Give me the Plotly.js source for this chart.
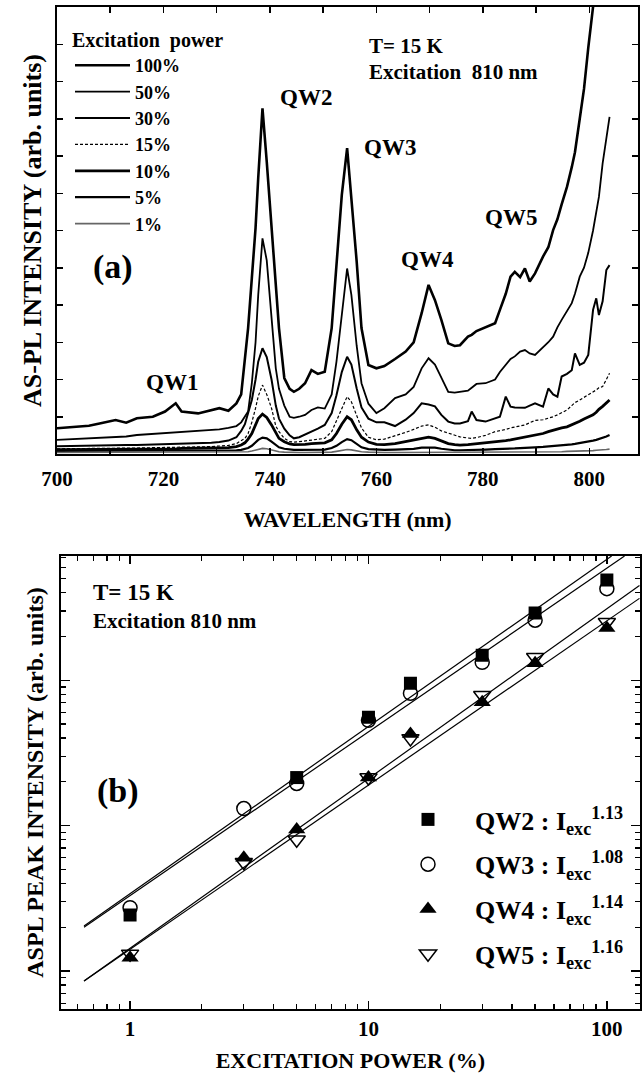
<!DOCTYPE html>
<html><head><meta charset="utf-8">
<script src="https://cdn.plot.ly/plotly-3.0.1.min.js"></script>
<style>html,body{margin:0;padding:0;background:#fff;} #chart{width:642px;height:1073px;}</style>
</head><body><div id="chart"></div>
<script>
// ---------- Panel (a): AS-PL spectra ----------
const wavelength = [700,703,706,708,711,713,715,718,720.3,722.3,723.4,726.5,729,730.5,732.2,733.7,734.6,735.3,735.9,736.6,737.3,737.8,738.6,739.4,740.3,741.1,741.7,742.7,743.7,744.5,745.5,746.6,747.8,749,750.3,751.6,752.5,753.5,754.5,755.3,756.3,757.2,758.5,760,761.5,763.5,765.5,767,768.5,769.8,771,772.2,773.5,774.7,775.7,777.2,777.9,778.8,780.5,782.3,783.2,784.3,785.2,786,787,787.9,788.8,789.8,791.3,792.3,793.2,794,794.8,795.8,796.7,797.3,798.2,799,799.8,800.7,801.3,801.8,802.5,803.2,803.8];
const pl100 = [0.69,0.73,0.76,0.82,0.91,0.84,0.96,1.0,1.14,1.36,1.14,1.09,1.18,1.23,1.16,1.36,1.6,2.48,3.38,4.72,6.07,7.41,9.28,7.85,6.07,4.72,3.38,2.04,1.75,1.67,1.75,1.9,2.25,2.15,2.21,3.38,5.16,6.95,8.21,6.95,5.16,3.38,2.39,2.3,2.36,2.55,2.75,3.0,3.78,4.54,4.13,3.6,2.97,2.9,2.92,3.15,3.2,3.3,3.4,3.51,3.87,4.3,4.76,4.89,4.75,4.98,4.63,4.85,5.3,5.55,6.01,6.3,6.7,7.17,7.7,8.1,9.0,9.8,10.9,12.0,13.2,null,null,null,null];
const pl50 = [0.38,0.4,0.42,0.43,0.45,0.47,0.51,0.54,0.55,0.58,0.6,0.62,0.64,0.66,0.7,0.75,0.85,1.0,1.14,1.9,3.0,4.27,5.79,5.2,3.6,2.3,1.75,1.3,1.0,0.97,1.0,1.05,1.18,1.25,1.22,1.6,2.48,3.82,4.98,4.27,2.9,1.9,1.35,1.1,1.23,1.5,1.6,1.8,2.3,2.57,2.4,2.05,1.67,1.65,1.67,1.7,1.78,1.88,1.9,2.0,2.2,2.4,2.55,2.62,2.75,2.79,2.7,2.66,2.85,3.0,3.15,3.4,3.6,3.85,4.05,4.3,4.76,5.0,5.4,6.0,6.46,6.9,7.8,8.5,9.05];
const pl30 = [0.21,0.22,0.22,0.23,0.23,0.24,0.24,0.25,0.26,0.27,0.27,0.28,0.3,0.32,0.36,0.45,0.62,0.8,1.1,1.45,2.0,2.48,2.84,2.6,2.0,1.3,0.95,0.68,0.5,0.42,0.45,0.52,0.6,0.68,0.78,1.1,1.58,2.2,2.61,2.4,1.76,1.25,0.95,0.85,0.85,0.75,0.92,1.1,1.36,1.33,1.28,1.05,0.87,0.82,0.82,0.88,1.14,0.91,0.87,0.95,1.0,1.54,1.27,1.25,1.25,1.24,1.3,1.36,1.27,1.76,1.6,1.54,2.08,2.15,2.25,2.7,2.39,2.45,2.66,3.87,4.18,3.73,4.1,4.94,5.07];
const pl15 = [0.14,0.14,0.15,0.15,0.15,0.16,0.16,0.17,0.17,0.18,0.18,0.19,0.2,0.21,0.23,0.28,0.35,0.42,0.55,0.85,1.23,1.55,1.85,1.6,1.23,0.75,0.6,0.42,0.33,0.32,0.33,0.35,0.38,0.4,0.42,0.6,0.9,1.25,1.54,1.4,1.05,0.7,0.45,0.38,0.4,0.48,0.58,0.66,0.75,0.78,0.72,0.62,0.56,0.5,0.46,0.43,0.42,0.44,0.5,0.6,0.62,0.66,0.7,0.72,0.76,0.78,0.84,0.9,0.92,0.96,1.0,1.05,1.1,1.18,1.3,1.38,1.45,1.52,1.58,1.65,1.72,1.78,1.81,2.0,2.17];
const pl10 = [0.12,0.12,0.12,0.13,0.13,0.13,0.13,0.14,0.14,0.14,0.15,0.15,0.15,0.16,0.17,0.2,0.24,0.3,0.4,0.55,0.78,0.95,1.07,0.98,0.78,0.55,0.42,0.33,0.27,0.25,0.25,0.26,0.28,0.29,0.3,0.38,0.55,0.8,1.0,0.92,0.65,0.45,0.32,0.26,0.25,0.28,0.33,0.38,0.42,0.45,0.42,0.35,0.28,0.25,0.24,0.25,0.26,0.27,0.29,0.32,0.34,0.36,0.38,0.4,0.43,0.45,0.47,0.5,0.55,0.6,0.64,0.67,0.7,0.73,0.78,0.82,0.88,0.94,1.0,1.05,1.12,1.2,1.28,1.38,1.45];
const pl5 = [0.08,0.08,0.08,0.08,0.08,0.08,0.09,0.09,0.09,0.09,0.09,0.09,0.1,0.1,0.1,0.1,0.11,0.13,0.16,0.22,0.3,0.38,0.44,0.42,0.33,0.24,0.18,0.14,0.12,0.11,0.11,0.11,0.12,0.12,0.12,0.16,0.22,0.32,0.4,0.37,0.27,0.18,0.13,0.11,0.11,0.12,0.12,0.14,0.17,0.18,0.17,0.14,0.11,0.1,0.1,0.1,0.11,0.11,0.12,0.13,0.13,0.14,0.15,0.15,0.16,0.16,0.17,0.18,0.19,0.2,0.21,0.22,0.23,0.24,0.26,0.27,0.29,0.31,0.33,0.36,0.38,0.4,0.43,0.47,0.51];
const pl1 = [0.04,0.04,0.04,0.04,0.04,0.04,0.04,0.04,0.04,0.04,0.04,0.04,0.04,0.04,0.04,0.04,0.05,0.05,0.06,0.08,0.11,0.13,0.15,0.14,0.11,0.08,0.06,0.05,0.04,0.04,0.04,0.04,0.04,0.04,0.04,0.05,0.07,0.1,0.12,0.11,0.08,0.06,0.05,0.04,0.04,0.04,0.04,0.05,0.06,0.06,0.06,0.05,0.04,0.04,0.04,0.04,0.04,0.04,0.04,0.04,0.04,0.04,0.05,0.05,0.05,0.05,0.05,0.05,0.05,0.06,0.06,0.06,0.06,0.07,0.07,0.07,0.08,0.08,0.09,0.09,0.1,0.1,0.11,0.12,0.13];
const powerLabels = ['100%','50%','30%','15%','10%','5%','1%'];

// ---------- Panel (b): peak intensity vs excitation power ----------
const excPower = [1,3,5,10,15,30,50,100];
const qw2 = [2.43,null,21.4,55.6,95.3,148.6,290,490];
const qw3 = [2.72,13.1,19.5,53.0,81.3,133,259,427];
const qw4 = [1.23,6.0,9.4,21.4,42.7,70.5,131,229];
const qw5 = [1.31,5.6,8.0,21.4,39.8,78.9,144,251];
const fitX2 = [0.641,104.7], fitY2 = [2.04,716];
const fitX3 = [0.641,118.6], fitY3 = [2.0,716];
const fitX4 = [0.641,137], fitY4 = [0.851,366];
const fitX5 = [0.641,137], fitY5 = [0.851,448];
const qwNames = ['QW2 : I<sub>exc</sub><sup>1.13</sup>','QW3 : I<sub>exc</sub><sup>1.08</sup>','QW4 : I<sub>exc</sub><sup>1.14</sup>','QW5 : I<sub>exc</sub><sup>1.16</sup>'];

const FONT = '"Liberation Serif", "Times New Roman", Times, serif';
const W = 642, H = 1073;
const px = v => v / W, py = v => 1 - v / H;

const lineStyles = [
  {width:2.6, color:'#000'},
  {width:1.8, color:'#000'},
  {width:2.0, color:'#000'},
  {width:1.2, color:'#000', dash:'3px,2px'},
  {width:2.8, color:'#000'},
  {width:2.2, color:'#000'},
  {width:1.6, color:'#666'}
];
const spectra = [pl100, pl50, pl30, pl15, pl10, pl5, pl1];
const traces = spectra.map((s, i) => ({
  type:'scatter', mode:'lines', x: wavelength, y: s, name: powerLabels[i],
  line: lineStyles[i], xaxis:'x', yaxis:'y', legend:'legend', connectgaps:false
}));

const fitStyle = {color:'#000', width:1.2};
[[fitX2,fitY2],[fitX3,fitY3],[fitX4,fitY4],[fitX5,fitY5]].forEach(f => {
  traces.push({type:'scatter', mode:'lines', x:f[0], y:f[1], line:fitStyle, xaxis:'x2', yaxis:'y2', showlegend:false, hoverinfo:'skip'});
});
const markerDefs = [
  {symbol:'square', size:13, color:'#000'},
  {symbol:'circle-open', size:14, color:'#000', line:{width:1.5,color:'#000'}},
  {symbol:'triangle-up', size:15, color:'#000'},
  {symbol:'triangle-down-open', size:15, color:'#000', line:{width:1.5,color:'#000'}}
];
[qw2, qw3, qw4, qw5].forEach((d, i) => {
  traces.push({type:'scatter', mode:'markers', x: excPower, y: d, name: qwNames[i],
    marker: markerDefs[i], xaxis:'x2', yaxis:'y2', legend:'legend2', legendgroup:'g' + i});
});

const axisCommon = {showline:true, linewidth:2, linecolor:'#000', mirror:'ticks', ticks:'inside',
  tickwidth:1.5, tickcolor:'#000', showgrid:false, zeroline:false,
  tickfont:{family:FONT, size:21, color:'#000', weight:'bold'}};

const layout = {
  width: W, height: H, margin:{l:0,r:0,t:0,b:0}, paper_bgcolor:'#fff', plot_bgcolor:'#fff',
  font:{family:FONT, size:21, color:'#000', weight:'bold'},
  xaxis: Object.assign({}, axisCommon, {domain:[px(57), px(638.3)], range:[700, 809.2],
    tick0:700, dtick:20, ticklen:6, anchor:'y', ticklabelstandoff:5,
    minor:{ticks:'inside', ticklen:6, tickwidth:1.5, tickcolor:'#000', dtick:10, showgrid:false},
    title:{text:'WAVELENGTH (nm)', standoff:21, font:{family:FONT, size:22, weight:'bold'}}}),
  yaxis: Object.assign({}, axisCommon, {domain:[py(454), py(7)], range:[0,12], dtick:1,
    showticklabels:false, ticklen:6, anchor:'x',
    title:{text:'AS-PL INTENSITY (arb. units)', standoff:6, font:{family:FONT, size:26, weight:'bold'}}}),
  xaxis2: Object.assign({}, axisCommon, {domain:[px(60.7), px(640)], type:'log', range:[-0.291, 2.139],
    dtick:1, ticklen:8, anchor:'y2',
    minor:{ticks:'inside', ticklen:5, tickwidth:1.2, tickcolor:'#000', dtick:'D1', showgrid:false},
    title:{text:'EXCITATION POWER (%)', standoff:12, font:{family:FONT, size:22, weight:'bold'}}}),
  yaxis2: Object.assign({}, axisCommon, {domain:[py(1009), py(556)], type:'log', range:[-0.262, 2.855],
    dtick:1, ticklen:9, showticklabels:false, anchor:'x2',
    minor:{ticks:'inside', ticklen:5, tickwidth:1.2, tickcolor:'#000', dtick:'D1', showgrid:false},
    title:{text:'ASPL PEAK INTENSITY (arb. units)', standoff:8, font:{family:FONT, size:24, weight:'bold'}}}),
  legend:{x:px(70), y:py(21), xanchor:'left', yanchor:'top', bgcolor:'rgba(0,0,0,0)',
    font:{family:FONT, size:18, weight:'bold', color:'#000'}, itemwidth:55,
    title:{text:'Excitation  power', font:{family:FONT, size:20, weight:'bold'}}},
  legend2:{x:px(381), y:py(796), xanchor:'left', yanchor:'top', bgcolor:'rgba(0,0,0,0)',
    font:{family:FONT, size:26, weight:'bold', color:'#000'}, itemwidth:84, tracegroupgap:8},
  showlegend:true,
  annotations:[
    {xref:'x', yref:'y', x:721.6, y:1.93, text:'QW1', showarrow:false, font:{size:23}},
    {xref:'x', yref:'y', x:746.8, y:9.58, text:'QW2', showarrow:false, font:{size:23}},
    {xref:'x', yref:'y', x:762.5, y:8.24, text:'QW3', showarrow:false, font:{size:23}},
    {xref:'x', yref:'y', x:769.6, y:5.21, text:'QW4', showarrow:false, font:{size:23}},
    {xref:'x', yref:'y', x:785.3, y:6.34, text:'QW5', showarrow:false, font:{size:23}},
    {xref:'x', yref:'y', x:758.2, y:10.95, xanchor:'left', text:'T= 15 K', showarrow:false, font:{size:21}},
    {xref:'x', yref:'y', x:758.2, y:10.25, xanchor:'left', text:'Excitation  810 nm', showarrow:false, font:{size:21}},
    {xref:'x', yref:'y', x:710.5, y:5.02, text:'(a)', showarrow:false, font:{size:34}},
    {xref:'x2', yref:'y2', x:-0.166, y:2.607, xanchor:'left', text:'T= 15 K', showarrow:false, font:{size:23}},
    {xref:'x2', yref:'y2', x:-0.166, y:2.407, xanchor:'left', text:'Excitation 810 nm', showarrow:false, font:{size:21}},
    {xref:'x2', yref:'y2', x:-0.05, y:1.241, text:'(b)', showarrow:false, font:{size:34}}
  ]
};

Plotly.newPlot('chart', traces, layout, {staticPlot:true, displayModeBar:false});
</script>
</body></html>
